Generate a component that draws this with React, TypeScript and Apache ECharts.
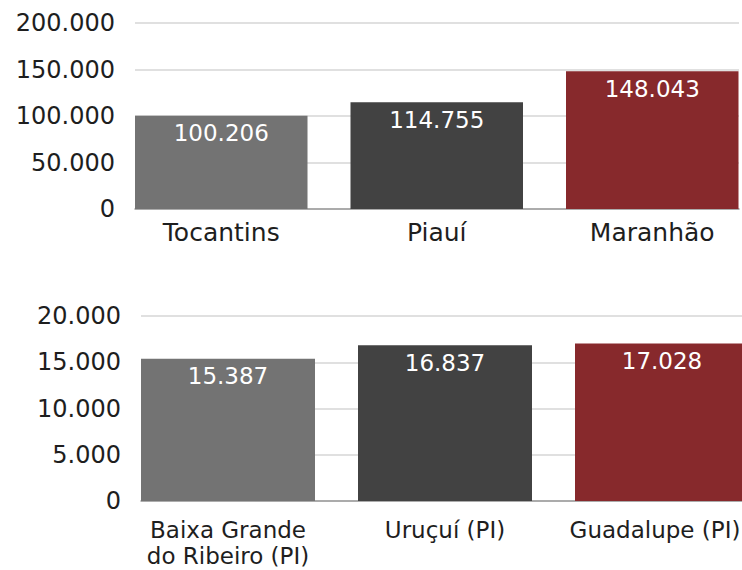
import React, { useEffect, useRef } from "react";
import * as echarts from "echarts";

const topCategories = ["Tocantins", "Piauí", "Maranhão"];
const topValues = [100206, 114755, 148043];
const topTicks = { min: 0, max: 200000, interval: 50000 };

const bottomCategories = ["Baixa Grande\ndo Ribeiro (PI)", "Uruçuí (PI)", "Guadalupe (PI)"];
const bottomValues = [15387, 16837, 17028];
const bottomTicks = { min: 0, max: 20000, interval: 5000 };

const barColors = ["#737373", "#424242", "#87292C"];

const FONT = "DejaVu Sans";
const FS_AXIS = 24;
const FS_DATA = 23;

function fmt(v: number): string {
  return String(Math.round(v)).replace(/\B(?=(\d{3})+(?!\d))/g, ".");
}

export default function App() {
  const ref = useRef<HTMLDivElement>(null);
  useEffect(() => {
    if (!ref.current) return;
    const chart = echarts.init(ref.current, null, { renderer: "svg" });
    const grids = [
      { left: 113.5, top: 23, width: 646.5, height: 186, outerBoundsMode: "none" },
      { left: 135, top: 23, right: 3, height: 186, outerBoundsMode: "none" },
      { left: 119.5, top: 316, width: 651, height: 185, outerBoundsMode: "none" },
      { left: 141, top: 316, right: 0, height: 185, outerBoundsMode: "none" },
    ];
    const labelStyle = { color: "#1e1e1e", fontFamily: FONT, fontSize: FS_AXIS };
    const mkBarX = (idx: number, cats: any[], fs: number, margin: number) => ({
      type: "category",
      gridIndex: idx,
      data: cats,
      axisLine: { show: false },
      axisTick: { show: false },
      axisLabel: { ...labelStyle, fontSize: fs, margin, lineHeight: 26, interval: 0 },
    });
    const mkAxisX = (idx: number, cats: string[]) => ({
      type: "category",
      gridIndex: idx,
      data: cats,
      axisLine: { show: true, lineStyle: { color: "#9a9a9a", width: 1.5 } },
      axisTick: { show: false },
      axisLabel: { show: false },
    });
    const mkBarY = (idx: number, t: any) => ({
      type: "value",
      gridIndex: idx,
      min: t.min,
      max: t.max,
      interval: t.interval,
      show: false,
      splitLine: { show: false },
    });
    const mkAxisY = (idx: number, t: any) => ({
      type: "value",
      gridIndex: idx,
      min: t.min,
      max: t.max,
      interval: t.interval,
      axisLine: { show: false },
      axisTick: { show: false },
      axisLabel: { ...labelStyle, margin: 20, formatter: (v: number) => fmt(v) },
      splitLine: { show: true, lineStyle: { color: "#d6d6d6", width: 1.5 } },
    });
    const mkSeries = (xi: number, vals: number[], bw: number) => ({
      type: "bar",
      xAxisIndex: xi,
      yAxisIndex: xi,
      barWidth: bw,
      data: vals.map((v, i) => ({ value: v, itemStyle: { color: barColors[i] } })),
      label: {
        show: true,
        position: "insideTop",
        distance: 6,
        color: "#ffffff",
        fontFamily: FONT,
        fontSize: FS_DATA,
        formatter: (p: any) => fmt(p.value),
      },
    });
    const bottomCatItems = bottomCategories.map((c, i) =>
      i === bottomCategories.length - 1
        ? { value: c, textStyle: { padding: [0, 14, 0, 0] } }
        : c
    );
    chart.setOption({
      animation: false,
      backgroundColor: "#ffffff",
      grid: grids,
      xAxis: [
        mkBarX(0, topCategories, 25, 10),
        mkAxisX(1, topCategories),
        mkBarX(2, bottomCatItems, 23, 16),
        mkAxisX(3, bottomCategories),
      ],
      yAxis: [
        mkBarY(0, topTicks),
        mkAxisY(1, topTicks),
        mkBarY(2, bottomTicks),
        mkAxisY(3, bottomTicks),
      ],
      series: [mkSeries(0, topValues, 172.5), mkSeries(2, bottomValues, 174)],
    });
    return () => chart.dispose();
  }, []);
  return (
    <div
      ref={ref}
      style={{ position: "fixed", left: 0, top: 0, width: 742, height: 570 }}
    />
  );
}
